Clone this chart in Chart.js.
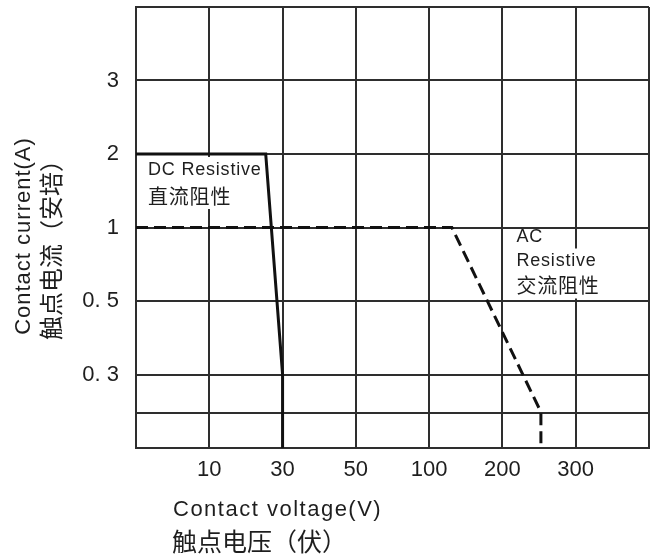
<!DOCTYPE html>
<html>
<head>
<meta charset="utf-8">
<script src="https://cdn.jsdelivr.net/npm/chart.js@4.4.1/dist/chart.umd.min.js"></script>
<style>
html,body{margin:0;padding:0;background:#ffffff;}
#wrap{width:654px;height:560px;}
</style>
</head>
<body>
<div id="wrap"><canvas id="c" width="654" height="560"></canvas></div>
<script>
// ---- data (axis positions; axes are equally spaced tick grids) ----
const voltageTicks = ['', '10', '30', '50', '100', '200', '300', ''];   // x tick labels at positions 0..7
const currentTickPos = [0, 0.47, 1, 2, 3, 4, 5, 6];                    // y grid positions
const currentTicks   = ['', '', '0. 3', '0. 5', '1', '2', '3', ''];    // y tick labels
const dcX = [0, 1.77, 2, 2];          // DC resistive curve (x positions)
const dcY = [4, 4, 1, 0];             // DC resistive curve (y positions)
const acX = [0, 4.31, 5.525, 5.525];  // AC resistive curve (x positions)
const acY = [3, 3, 0.49, 0];          // AC resistive curve (y positions)
const dcLabel = ['DC Resistive', '直流阻性'];
const acLabel = ['AC', 'Resistive', '交流阻性'];
const xTitle = ['Contact voltage(V)', '触点电压（伏）'];
const yTitle = ['Contact current(A)', '触点电流（安培）'];

const LAT = "'Liberation Sans', Arial, sans-serif";
const CJK = "'Noto Sans CJK SC', 'Liberation Sans', sans-serif";
const INK = '#1e1e1e';
const GRID = '#2e2e2e';

function pts(xs, ys){ return xs.map((x,i)=>({x:x, y:ys[i]})); }

function boxedText(ctx, text, x, yc, font, spacing){
  ctx.font = font;
  ctx.letterSpacing = spacing || '0px';
  const w = ctx.measureText(text).width;
  ctx.fillStyle = '#ffffff';
  ctx.fillRect(x - 3, yc - 13, w + 4, 26);
}

const textPlugin = {
  id: 'texts',
  beforeDatasetsDraw(chart){
    const ctx = chart.ctx, xs = chart.scales.x, ys = chart.scales.y;
    ctx.save();
    const dx = xs.getPixelForValue(0) + 12, dy = ys.getPixelForValue(4);
    const dcLines = [[dcLabel[0], dy + 16, '18px ' + LAT], [dcLabel[1], dy + 42, '20px ' + CJK]];
    const ax = xs.getPixelForValue(5) + 14, ay = ys.getPixelForValue(3);
    const acLines = [[acLabel[0], ay + 10, '18px ' + LAT], [acLabel[1], ay + 34, '18px ' + LAT], [acLabel[2], ay + 58, '20px ' + CJK]];
    dcLines.forEach(l => boxedText(ctx, l[0], dx, l[1], l[2], '0.8px'));
    acLines.slice(1).forEach(l => boxedText(ctx, l[0], ax, l[1], l[2], '0.8px'));
    ctx.fillStyle = INK;
    ctx.textAlign = 'left';
    ctx.textBaseline = 'middle';
    [[dcLines, dx], [acLines, ax]].forEach(([lines, x]) => {
      lines.forEach(l => { ctx.font = l[2]; ctx.letterSpacing = '0.8px'; ctx.fillText(l[0], x, l[1]); });
    });
    ctx.restore();
  },
  afterDraw(chart){
    const ctx = chart.ctx;
    ctx.save();
    ctx.fillStyle = INK;
    ctx.textBaseline = 'middle';
    ctx.textAlign = 'left';
    ctx.font = '22px ' + LAT; ctx.letterSpacing = '1.5px';
    ctx.fillText(xTitle[0], 173, 510);
    ctx.font = '25px ' + CJK; ctx.letterSpacing = '0px';
    ctx.fillText(xTitle[1], 172, 541);
    ctx.textAlign = 'center';
    ctx.save();
    ctx.translate(24, 236); ctx.rotate(-Math.PI/2);
    ctx.font = '22px ' + LAT; ctx.letterSpacing = '1px';
    ctx.fillText(yTitle[0], 0, 0);
    ctx.restore();
    ctx.save();
    ctx.translate(51, 244); ctx.rotate(-Math.PI/2);
    ctx.font = '24px ' + CJK; ctx.letterSpacing = '0px';
    ctx.fillText(yTitle[1], 0, 0);
    ctx.restore();
    ctx.restore();
  }
};

new Chart(document.getElementById('c'), {
  type: 'scatter',
  data: {
    datasets: [
      { label: 'DC Resistive', data: pts(dcX, dcY), showLine: true, borderColor: '#111111', borderWidth: 3, pointRadius: 0, tension: 0, fill: false },
      { label: 'AC Resistive', data: pts(acX, acY), showLine: true, borderColor: '#111111', borderWidth: 3, borderDash: [12, 6], pointRadius: 0, tension: 0, fill: false }
    ]
  },
  options: {
    responsive: false,
    animation: false,
    events: [],
    layout: { padding: { top: 7, right: 5, left: 0, bottom: 0 } },
    plugins: { legend: { display: false }, tooltip: { enabled: false } },
    scales: {
      x: {
        type: 'linear', min: 0, max: voltageTicks.length - 1,
        afterBuildTicks: s => { s.ticks = voltageTicks.map((_, i) => ({ value: i })); },
        afterFit: s => { s.height = 112; s.paddingLeft = 0; s.paddingRight = 0; },
        ticks: {
          autoSkip: false, maxRotation: 0, padding: 9, color: INK,
          font: { family: LAT, size: 22 },
          callback: (v) => voltageTicks[Math.round(v)] || ''
        },
        grid: { color: GRID, lineWidth: 2, drawTicks: false },
        border: { color: GRID, width: 2 }
      },
      y: {
        type: 'linear', min: 0, max: 6,
        afterBuildTicks: s => { s.ticks = currentTickPos.map(v => ({ value: v })); },
        afterFit: s => { s.width = 136; s.paddingTop = 0; s.paddingBottom = 0; },
        ticks: {
          autoSkip: false, padding: 17, color: INK,
          font: { family: LAT, size: 22 },
          callback: (v, i) => currentTicks[i] || ''
        },
        grid: { color: GRID, lineWidth: 2, drawTicks: false },
        border: { color: GRID, width: 2 }
      }
    }
  },
  plugins: [textPlugin]
});
</script>
</body>
</html>
